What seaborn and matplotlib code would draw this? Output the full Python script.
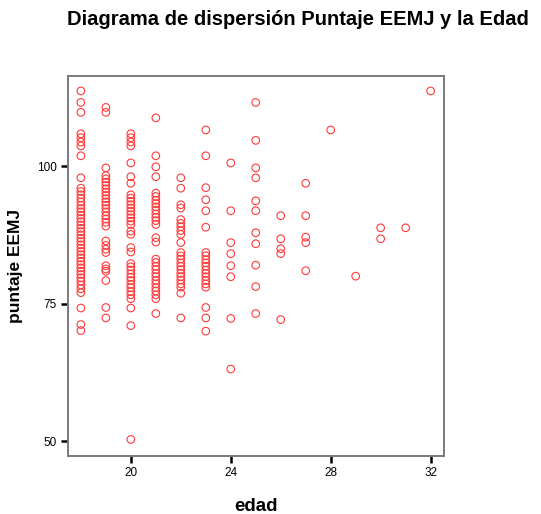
import matplotlib
matplotlib.use("Agg")
import matplotlib.pyplot as plt
import seaborn as sns
import pandas as pd

# puntaje EEMJ por edad
edad_18 = [113.7, 111.6, 109.8, 105.9, 105.2, 104.4, 103.7, 101.9, 97.9,
           96.0, 95.4, 94.8, 94.2, 93.5, 92.9, 92.3, 91.7, 91.1, 90.5, 89.9,
           89.3, 88.7, 88.1, 87.5, 86.9, 86.3, 85.7, 85.1, 84.5, 83.9, 83.3,
           82.7, 82.1, 81.5, 80.9, 80.3, 79.7, 79.1, 78.4, 77.7, 77.0,
           74.2, 71.2, 70.1]
edad_19 = [110.7, 109.8, 99.7, 98.3, 97.7, 97.1, 96.5, 95.9, 95.3, 94.7, 94.1,
           93.5, 92.9, 92.3, 91.7, 91.0, 90.4, 89.8, 89.1,
           86.4, 85.6, 84.9, 84.3, 81.9, 81.3, 80.9, 79.2, 74.3, 72.4]
edad_20 = [105.9, 105.2, 104.4, 103.7, 100.6, 98.1, 96.9,
           94.8, 94.2, 93.6, 93.0, 92.4, 91.8, 91.2, 90.6, 90.0, 89.4,
           88.2, 87.6, 85.2, 84.4,
           82.3, 81.7, 81.1, 80.4, 79.8, 79.2, 78.5, 77.9, 77.2, 76.6, 75.9,
           74.2, 71.0, 50.3]
edad_21 = [108.8, 101.9, 99.9, 98.1,
           95.1, 94.5, 93.8, 93.2, 92.6, 92.0, 91.3, 90.7, 90.1, 89.4,
           87.0, 86.2,
           83.1, 82.5, 81.8, 81.2, 80.5, 79.9, 79.2, 78.6, 77.9, 77.3, 76.6, 75.9,
           73.2]
edad_22 = [97.9, 96.0, 93.0, 92.4, 90.3, 89.6, 89.0, 88.3, 87.6, 86.1,
           84.3, 83.7, 83.1, 82.4, 81.8, 81.2, 80.5, 79.9, 79.3, 78.6, 78.0,
           76.9, 72.4]
edad_23 = [106.6, 101.9, 96.1, 93.9, 91.9, 88.9,
           84.3, 83.7, 83.0, 82.4, 81.8, 81.1, 80.5, 79.9, 79.2, 78.6, 78.0,
           74.3, 72.4, 70.0]
edad_24 = [100.6, 91.9, 86.1, 84.1, 81.9, 79.9, 72.3, 63.1]
edad_25 = [111.6, 104.7, 99.7, 97.9, 93.7, 91.9, 87.9, 85.9, 82.0, 78.1, 73.2]
edad_26 = [91.0, 86.8, 85.0, 84.1, 72.1]
edad_27 = [96.9, 91.0, 87.1, 86.1, 81.0]
edad_28 = [106.6]
edad_29 = [80.0]
edad_30 = [88.8, 86.8]
edad_31 = [88.8]
edad_32 = [113.7]

columnas = {18: edad_18, 19: edad_19, 20: edad_20, 21: edad_21, 22: edad_22,
            23: edad_23, 24: edad_24, 25: edad_25, 26: edad_26, 27: edad_27,
            28: edad_28, 29: edad_29, 30: edad_30, 31: edad_31, 32: edad_32}

x_ticks = [20, 24, 28, 32]
y_ticks = [50, 75, 100]

df = pd.DataFrame([(e, p) for e, vals in columnas.items() for p in vals],
                  columns=["edad", "puntaje"])

sns.set_style("white")
plt.rcParams["font.family"] = ["Liberation Sans", "DejaVu Sans"]
plt.rcParams["text.color"] = "black"
plt.rcParams["axes.labelcolor"] = "black"

fig = plt.figure(figsize=(5.41, 5.14), dpi=100)
ax = fig.add_axes([0.125, 0.113, 0.695, 0.739])

sns.scatterplot(data=df, x="edad", y="puntaje", ax=ax, marker="o",
                s=30, facecolors="none", edgecolor="#ff3b3b", linewidth=0.8)

ax.set_xlim(17.47, 32.52)
ax.set_ylim(47.3, 116.4)
ax.set_xticks(x_ticks)
ax.set_yticks(y_ticks)
ax.tick_params(axis="both", direction="out", length=5, width=1.8,
               color="black", labelcolor="black", labelsize=8.5, pad=3,
               bottom=True, left=True)

for s in ax.spines.values():
    s.set_color("#7a7a7a")
    s.set_linewidth(1.4)

ax.set_xlabel("edad", fontsize=13.5, fontweight="bold", labelpad=14)
ax.set_ylabel("puntaje EEMJ", fontsize=12.5, fontweight="bold", labelpad=10)

fig.text(0.55, 0.963, "Diagrama de dispersión Puntaje EEMJ y la Edad",
         ha="center", va="center", fontsize=14.5, fontweight="bold")

fig.savefig("out.png", dpi=100)
